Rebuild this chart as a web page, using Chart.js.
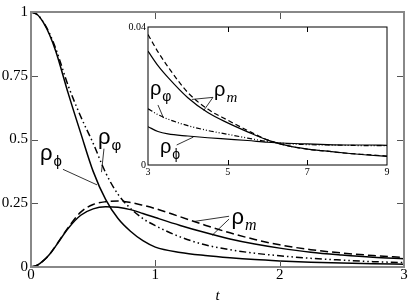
<!DOCTYPE html>
<html>
<head>
<meta charset="utf-8">
<script src="https://cdn.jsdelivr.net/npm/chart.js@4.4.0/dist/chart.umd.min.js"></script>
<style>
  html, body { margin: 0; padding: 0; background: #fff; }
  #wrap { position: relative; width: 409px; height: 303px; }
  #mainChart { position: absolute; left: 0; top: 0; }
  #insetChart { position: absolute; left: 120px; top: 16px; }
</style>
</head>
<body>
<div id="wrap">
  <canvas id="mainChart" width="409" height="303"></canvas>
  <canvas id="insetChart" width="275" height="170"></canvas>
</div>
<script>
// main panel, t = 0..3
const tMain = [0, 0.05, 0.1, 0.15, 0.2, 0.3, 0.4, 0.5, 0.6, 0.7, 0.8, 0.9, 1.0, 1.2, 1.4, 1.6, 1.8, 2.0, 2.25, 2.5, 2.75, 3.0];
const rhoPhiMain    = [1, 0.99, 0.958, 0.91, 0.845, 0.68, 0.525, 0.375, 0.265, 0.19, 0.14, 0.103, 0.078, 0.057, 0.045, 0.036, 0.029, 0.024, 0.019, 0.016, 0.013, 0.011];
const rhoVarphiMain = [1, 0.99, 0.96, 0.915, 0.855, 0.71, 0.59, 0.485, 0.37, 0.285, 0.23, 0.19, 0.162, 0.118, 0.087, 0.068, 0.054, 0.044, 0.034, 0.027, 0.021, 0.017];
const rhoMSolidMain = [0, 0.007, 0.025, 0.05, 0.083, 0.152, 0.203, 0.228, 0.236, 0.234, 0.225, 0.21, 0.194, 0.163, 0.135, 0.11, 0.09, 0.074, 0.058, 0.047, 0.038, 0.032];
const rhoMDashMain  = [0, 0.007, 0.025, 0.05, 0.084, 0.155, 0.215, 0.245, 0.256, 0.259, 0.253, 0.242, 0.229, 0.197, 0.164, 0.134, 0.108, 0.087, 0.068, 0.055, 0.045, 0.037];
const xTicksMain = [0, 1, 2, 3];
const yTicksMain = [0, 0.25, 0.5, 0.75, 1];

// inset, t = 3..9
const tInset = [3, 3.25, 3.5, 4, 4.5, 5, 5.5, 6, 6.5, 7, 7.5, 8, 8.5, 9];
const rhoPhiInset    = [0.0111, 0.0097, 0.0090, 0.0084, 0.0079, 0.0075, 0.0071, 0.0066, 0.0063, 0.0061, 0.0059, 0.0058, 0.0058, 0.0057];
const rhoVarphiInset = [0.0163, 0.0146, 0.0133, 0.0114, 0.0100, 0.0089, 0.0078, 0.0068, 0.0062, 0.0059, 0.0058, 0.0057, 0.0056, 0.0056];
const rhoMSolidInset = [0.0330, 0.0288, 0.0254, 0.0195, 0.0152, 0.0122, 0.0096, 0.0072, 0.0056, 0.0046, 0.0040, 0.0034, 0.0029, 0.0025];
const rhoMDashInset  = [0.0378, 0.0328, 0.0285, 0.0210, 0.0162, 0.0130, 0.0100, 0.0073, 0.0056, 0.0046, 0.0040, 0.0034, 0.0030, 0.0026];
const xTicksInset = [3, 5, 7, 9];
const yTicksInset = [0, 0.04];

const SERIF = '"Liberation Serif", "Times New Roman", serif';
const SANS = '"Liberation Sans", Arial, sans-serif';
const DASH = [8, 4];
const DASHDOT = [7, 3, 1.5, 3, 1.5, 3];
const DASH_S = [5, 3];
const DASHDOT_S = [5, 2, 1, 2, 1, 2];

function pts(ts, vals) {
    return ts.map((t, i) => ({ x: t, y: vals[i] }));
}

function serie(ts, vals, dash, width) {
    return {
        data: pts(ts, vals),
        borderColor: '#000',
        borderWidth: width,
        borderDash: dash,
        pointRadius: 0,
        fill: false,
        cubicInterpolationMode: 'monotone'
    };
}

function rho(ctx, px, py, sub, subFont, size) {
    ctx.font = size + 'px ' + SANS;
    ctx.fillText('ρ', px, py);
    const w = ctx.measureText('ρ').width;
    ctx.font = subFont;
    ctx.fillText(sub, px + w + 1, py + size * 0.28);
}

function line(ctx, sx, sy, a, b) {
    ctx.beginPath();
    ctx.moveTo(sx.getPixelForValue(a[0]), sy.getPixelForValue(a[1]));
    ctx.lineTo(sx.getPixelForValue(b[0]), sy.getPixelForValue(b[1]));
    ctx.stroke();
}

// frame + inward ticks on every side
function framePlugin(o) {
    return {
        id: 'frame',
        afterDraw(chart) {
            const { ctx, chartArea: a } = chart;
            const sx = chart.scales.x, sy = chart.scales.y;
            ctx.save();
            ctx.strokeStyle = o.tickColor;
            ctx.lineWidth = 1;
            ctx.beginPath();
            o.xTicks.forEach(v => {
                const px = Math.round(sx.getPixelForValue(v)) + 0.5;
                ctx.moveTo(px, a.bottom); ctx.lineTo(px, a.bottom - o.len);
                ctx.moveTo(px, a.top); ctx.lineTo(px, a.top + o.len);
            });
            o.yTicks.forEach(v => {
                const py = Math.round(sy.getPixelForValue(v)) + 0.5;
                ctx.moveTo(a.left, py); ctx.lineTo(a.left + o.len, py);
                ctx.moveTo(a.right, py); ctx.lineTo(a.right - o.len, py);
            });
            ctx.stroke();
            ctx.strokeStyle = o.frameColor;
            ctx.lineWidth = o.frameWidth;
            ctx.strokeRect(a.left, a.top, a.right - a.left, a.bottom - a.top);
            ctx.restore();
        }
    };
}

const mainLabels = {
    id: 'mainLabels',
    afterDatasetsDraw(chart) {
        const ctx = chart.ctx, sx = chart.scales.x, sy = chart.scales.y;
        ctx.save();
        ctx.fillStyle = '#000';
        ctx.strokeStyle = '#000';
        ctx.lineWidth = 0.8;
        ctx.textBaseline = 'alphabetic';
        const sub = '15px ' + SANS;
        rho(ctx, sx.getPixelForValue(0.072), sy.getPixelForValue(0.421), 'ϕ', sub, 22);
        rho(ctx, sx.getPixelForValue(0.539), sy.getPixelForValue(0.483), 'φ', sub, 22);
        rho(ctx, sx.getPixelForValue(1.613), sy.getPixelForValue(0.169), 'm', 'italic 16px ' + SERIF, 22);
        line(ctx, sx, sy, [0.257, 0.383], [0.531, 0.322]);
        line(ctx, sx, sy, [0.587, 0.464], [0.567, 0.372]);
        line(ctx, sx, sy, [1.593, 0.199], [1.303, 0.178]);
        line(ctx, sx, sy, [1.593, 0.188], [1.456, 0.124]);
        ctx.restore();
    }
};

const insetLabels = {
    id: 'insetLabels',
    afterDatasetsDraw(chart) {
        const ctx = chart.ctx, sx = chart.scales.x, sy = chart.scales.y;
        ctx.save();
        ctx.fillStyle = '#000';
        ctx.strokeStyle = '#000';
        ctx.lineWidth = 0.8;
        const sub = '14px ' + SANS;
        rho(ctx, sx.getPixelForValue(3.05), sy.getPixelForValue(0.0203), 'φ', sub, 20);
        rho(ctx, sx.getPixelForValue(4.66), sy.getPixelForValue(0.0200), 'm', 'italic 15px ' + SERIF, 20);
        rho(ctx, sx.getPixelForValue(3.30), sy.getPixelForValue(0.0035), 'ϕ', sub, 20);
        line(ctx, sx, sy, [3.25, 0.0174], [3.39, 0.0136]);
        line(ctx, sx, sy, [4.63, 0.0196], [4.10, 0.0190]);
        line(ctx, sx, sy, [4.63, 0.0196], [4.40, 0.0158]);
        line(ctx, sx, sy, [3.72, 0.0058], [4.14, 0.0081]);
        ctx.restore();
    }
};

function axis(min, max, ticks, size, fontSize, pad, fitKey, title) {
    return {
        type: 'linear',
        min: min,
        max: max,
        afterBuildTicks: s => { s.ticks = ticks.map(v => ({ value: v })); },
        afterFit: s => { s[fitKey] = size; },
        grid: { display: false, drawTicks: false },
        border: { display: false },
        ticks: {
            autoSkip: false,
            maxRotation: 0,
            padding: pad,
            color: '#000',
            font: { family: SERIF, size: fontSize },
            callback: v => String(v)
        },
        title: title || { display: false }
    };
}

new Chart(document.getElementById('mainChart'), {
    type: 'line',
    data: {
        datasets: [
            serie(tMain, rhoMDashMain, DASH, 1.5),
            serie(tMain, rhoMSolidMain, [], 1.5),
            serie(tMain, rhoVarphiMain, DASHDOT, 1.5),
            serie(tMain, rhoPhiMain, [], 1.5)
        ]
    },
    options: {
        responsive: false,
        animation: false,
        devicePixelRatio: 1,
        layout: { padding: { left: 0, right: 5, top: 6, bottom: 0 } },
        plugins: { legend: { display: false }, tooltip: { enabled: false } },
        scales: {
            x: axis(0, 3, xTicksMain, 36, 15, -1, 'height', {
                display: true, text: 't', color: '#000', padding: { top: 0, bottom: -2 },
                font: { family: SERIF, size: 15, style: 'italic' }
            }),
            y: axis(0, 1, yTicksMain, 31, 15, 3, 'width')
        }
    },
    plugins: [mainLabels, framePlugin({ xTicks: xTicksMain, yTicks: yTicksMain, len: 7, tickColor: '#555', frameColor: '#888', frameWidth: 2 })]
});

new Chart(document.getElementById('insetChart'), {
    type: 'line',
    data: {
        datasets: [
            serie(tInset, rhoMDashInset, DASH_S, 1.2),
            serie(tInset, rhoMSolidInset, [], 1.2),
            serie(tInset, rhoVarphiInset, DASHDOT_S, 1.2),
            serie(tInset, rhoPhiInset, [], 1.2)
        ]
    },
    options: {
        responsive: false,
        animation: false,
        devicePixelRatio: 1,
        layout: { padding: { left: 0, right: 8, top: 11, bottom: 0 } },
        plugins: { legend: { display: false }, tooltip: { enabled: false } },
        scales: {
            x: axis(3, 9, xTicksInset, 21, 10, 1, 'height'),
            y: axis(0, 0.04, yTicksInset, 28, 10, 2, 'width')
        }
    },
    plugins: [insetLabels, framePlugin({ xTicks: [5, 7], yTicks: [], len: 5, tickColor: '#000', frameColor: '#000', frameWidth: 1 })]
});
</script>
</body>
</html>
